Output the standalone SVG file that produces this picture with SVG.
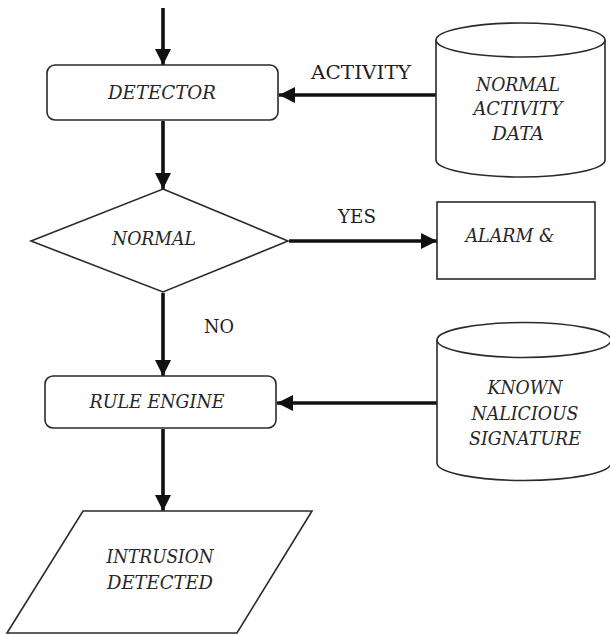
<svg xmlns="http://www.w3.org/2000/svg" width="610" height="635" viewBox="0 0 610 635">
<style>
.shape{fill:#ffffff;stroke:#2a2a2a;stroke-width:1.6}
.node{font-family:'DejaVu Serif',serif;font-size:19px;font-style:italic;fill:#262626;text-anchor:middle}
.lbl{font-family:'DejaVu Serif',serif;font-size:19px;fill:#1e1e1e;text-anchor:middle}
.conn{stroke:#111;stroke-width:3.6;fill:none}
</style>
<defs>
<marker id="ah" markerUnits="userSpaceOnUse" markerWidth="18" markerHeight="18" refX="16" refY="8" orient="auto">
<path d="M0,0 L16,8 L0,16 z" fill="#111"/>
</marker>
</defs>
<rect width="610" height="635" fill="#ffffff"/>
<g id="connectors">
<line class="conn" x1="163" y1="8" x2="163" y2="65" marker-end="url(#ah)"/>
<line class="conn" x1="163" y1="121" x2="163" y2="189" marker-end="url(#ah)"/>
<line class="conn" x1="436" y1="95" x2="279" y2="95" marker-end="url(#ah)"/>
<line class="conn" x1="289" y1="241" x2="437" y2="241" marker-end="url(#ah)"/>
<line class="conn" x1="163" y1="293" x2="163" y2="376" marker-end="url(#ah)"/>
<line class="conn" x1="437" y1="403" x2="277" y2="403" marker-end="url(#ah)"/>
<line class="conn" x1="163" y1="429" x2="163" y2="511" marker-end="url(#ah)"/>
<text class="lbl" x="361" y="79" textLength="100" lengthAdjust="spacingAndGlyphs">ACTIVITY</text>
<text class="lbl" x="357" y="223" textLength="38" lengthAdjust="spacingAndGlyphs">YES</text>
<text class="lbl" x="219" y="333" textLength="30" lengthAdjust="spacingAndGlyphs">NO</text>
</g>
<g id="detector">
<rect class="shape" x="47" y="65" width="231" height="55" rx="8"/>
<text class="node" x="162" y="99" textLength="108" lengthAdjust="spacingAndGlyphs">DETECTOR</text>
</g>
<g id="normal-activity-data">
<path class="shape" d="M436,40 L436,160 A84.5,17 0 0 0 605,160 L605,40"/>
<ellipse class="shape" cx="520.5" cy="40" rx="84.5" ry="17"/>
<text class="node" x="518" y="91" textLength="84" lengthAdjust="spacingAndGlyphs">NORMAL</text>
<text class="node" x="518" y="115" textLength="89" lengthAdjust="spacingAndGlyphs">ACTIVITY</text>
<text class="node" x="518" y="140" textLength="52" lengthAdjust="spacingAndGlyphs">DATA</text>
</g>
<g id="normal">
<polygon class="shape" points="163,189 288,241 163,292 31,241"/>
<text class="node" x="154" y="245" textLength="84" lengthAdjust="spacingAndGlyphs">NORMAL</text>
</g>
<g id="alarm">
<rect class="shape" x="437" y="202" width="158" height="77"/>
<text class="node" x="510" y="242" textLength="89" lengthAdjust="spacingAndGlyphs">ALARM &amp;</text>
</g>
<g id="rule-engine">
<rect class="shape" x="45" y="376" width="231" height="52" rx="8"/>
<text class="node" x="157" y="408" textLength="135" lengthAdjust="spacingAndGlyphs">RULE ENGINE</text>
</g>
<g id="known-signature">
<path class="shape" d="M437,340 L437,463 A87,17.5 0 0 0 611,463 L611,340"/>
<ellipse class="shape" cx="524" cy="340" rx="87" ry="17.5"/>
<text class="node" x="525" y="394" textLength="75" lengthAdjust="spacingAndGlyphs">KNOWN</text>
<text class="node" x="525" y="420" textLength="107" lengthAdjust="spacingAndGlyphs">NALICIOUS</text>
<text class="node" x="525" y="445" textLength="112" lengthAdjust="spacingAndGlyphs">SIGNATURE</text>
</g>
<g id="intrusion-detected">
<polygon class="shape" points="83,511 312,511 237,633 7,633"/>
<text class="node" x="160" y="563" textLength="107" lengthAdjust="spacingAndGlyphs">INTRUSION</text>
<text class="node" x="160" y="589" textLength="106" lengthAdjust="spacingAndGlyphs">DETECTED</text>
</g>
</svg>
